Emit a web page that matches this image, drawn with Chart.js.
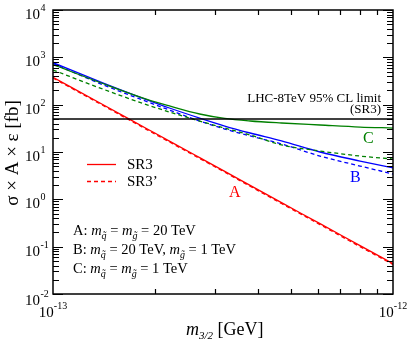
<!DOCTYPE html>
<html><head><meta charset="utf-8">
<script src="https://cdn.jsdelivr.net/npm/chart.js@4/dist/chart.umd.min.js"></script>
<style>html,body{margin:0;padding:0;background:#fff}canvas{display:block}</style>
</head><body>
<canvas id="c" width="411" height="344"></canvas>
<script>
// gravitino mass [GeV]
const massGeV = [1.0e-13,1.4e-13,1.9e-13,2.2e-13,2.7e-13,3.2e-13,3.8e-13,4.7e-13,6.1e-13,8.0e-13,1.0e-12];
// sigma x A x eps [fb]
const sigmaA_SR3  = [380,101,30.3,17.0,7.6,3.9,1.97,0.85,0.306,0.105,0.0437];
const sigmaA_SR3p = [365,97,29,16.3,7.3,3.75,1.89,0.815,0.293,0.100,0.042];
const sigmaB_SR3  = [770,290,125,85,52,35.4,25.2,17.1,10.0,6.45,4.6];
const sigmaB_SR3p = [735,265,114,77,45,30.6,21.8,14.8,8.2,5.05,3.43];
const sigmaC_SR3  = [700,280,128,94,63.5,51.1,45.2,41,37.2,33.7,32.1];
const sigmaC_SR3p = [540,214,98,70,45,32,22.9,14.1,10.5,8.2,7.1];
const limitMass = [1e-13,1e-12];
const limitSR3  = [50,50];
const yTickExps = [4,3,2,1,0,-1,-2];
const xTickExps = [-13,-12];

const SERIF = '"Liberation Serif","Times New Roman",serif';
const pts = (xs, ys) => xs.map((m,i)=>({x:m,y:ys[i]}));
const RED='#ff0000', BLUE='#0000ff', GREEN='#008000';
function ds(data, color, dashed){
  return {data, borderColor:color, borderWidth:1.3, borderDash: dashed?[4,3]:[], pointRadius:0, fill:false, cubicInterpolationMode:'monotone'};
}

function font(sz,it){return (it?'italic ':'')+sz+'px '+SERIF;}
function drawRich(ctx,x,y,segs,align){
  let w=0; segs.forEach(s=>{ctx.font=font(s.s,s.i); s.w=ctx.measureText(s.t).width; w+=s.w;});
  let cx = align==='center'? x-w/2 : align==='right'? x-w : x;
  ctx.textAlign='left'; ctx.textBaseline='alphabetic';
  segs.forEach(s=>{ctx.font=font(s.s,s.i); ctx.fillText(s.t,cx,y+(s.dy||0)); cx+=s.w;});
}

const deco = {
  id:'deco',
  afterDatasetsDraw(chart){
    const ctx=chart.ctx, a=chart.chartArea, xs=chart.scales.x, ys=chart.scales.y;
    ctx.save();
    ctx.fillStyle='#000'; ctx.strokeStyle='#000';
    // frame
    ctx.lineWidth=1.5;
    ctx.strokeRect(a.left,a.top,a.right-a.left,a.bottom-a.top);
    // y ticks
    ctx.lineWidth=1.2;
    for(let e=-2;e<=4;e++){
      for(let k=1;k<=9;k++){
        const v=k*Math.pow(10,e); if(v>1e4) break;
        const p=Math.round(ys.getPixelForValue(v))+0.5;
        const L = k===1?10:6;
        ctx.beginPath();
        ctx.moveTo(a.left,p); ctx.lineTo(a.left+L,p);
        ctx.moveTo(a.right,p); ctx.lineTo(a.right-L,p);
        ctx.stroke();
      }
    }
    // x ticks
    for(let k=2;k<=9;k++){
      const p=Math.round(xs.getPixelForValue(k*1e-13))+0.5;
      ctx.beginPath();
      ctx.moveTo(p,a.bottom); ctx.lineTo(p,a.bottom-5);
      ctx.moveTo(p,a.top); ctx.lineTo(p,a.top+5);
      ctx.stroke();
    }
    // y tick labels
    yTickExps.forEach(e=>{
      const p=ys.getPixelForValue(Math.pow(10,e));
      const b = p + (e===-2?11:9);
      ctx.font=font(15); ctx.textAlign='right'; ctx.textBaseline='alphabetic';
      ctx.fillText('10',40,b);
      ctx.font=font(10); ctx.textAlign='left';
      ctx.fillText(String(e),40.5,b-8);
    });
    // x tick labels
    xTickExps.forEach(e=>{
      const p=xs.getPixelForValue(Math.pow(10,e));
      drawRich(ctx,p,317,[{t:'10',s:15},{t:String(e),s:10,dy:-8}],'center');
    });
    // axis titles
    ctx.save();
    ctx.translate(18,153); ctx.rotate(-Math.PI/2);
    ctx.font=font(19); ctx.textAlign='center'; ctx.textBaseline='alphabetic';
    ctx.fillText('σ × A × ε [fb]',0,0);
    ctx.restore();
    drawRich(ctx,186,335,[{t:'m',s:18,i:true},{t:'3/2',s:11,i:true,dy:4},{t:' [GeV]',s:18}],'left');
    // limit text
    ctx.font=font(13); ctx.textAlign='right';
    ctx.fillText('LHC-8TeV 95% CL limit',381,102);
    ctx.fillText('(SR3)',381,113);
    // curve labels
    ctx.textAlign='left';
    ctx.font=font(16);
    ctx.fillStyle=RED; ctx.fillText('A',229,197);
    ctx.fillStyle=BLUE; ctx.fillText('B',350,182);
    ctx.fillStyle=GREEN; ctx.fillText('C',363,143);
    // legend
    ctx.strokeStyle=RED; ctx.lineWidth=1.3;
    ctx.beginPath(); ctx.moveTo(87,164.5); ctx.lineTo(116,164.5); ctx.stroke();
    ctx.setLineDash([4,3]);
    ctx.beginPath(); ctx.moveTo(87,181.5); ctx.lineTo(116,181.5); ctx.stroke();
    ctx.setLineDash([]);
    ctx.fillStyle='#000'; ctx.font=font(15);
    ctx.fillText('SR3',127,169);
    ctx.fillText('SR3’',127,186);
    // model annotations
    const sub=(t)=>({t,s:10,i:true,dy:4});
    drawRich(ctx,73,235,[{t:'A: ',s:14.5},{t:'m',s:14.5,i:true},sub('q̃'),{t:' = ',s:14.5},{t:'m',s:14.5,i:true},sub('g̃'),{t:' = 20 TeV',s:14.5}],'left');
    drawRich(ctx,73,254,[{t:'B: ',s:14.5},{t:'m',s:14.5,i:true},sub('q̃'),{t:' = 20 TeV, ',s:14.5},{t:'m',s:14.5,i:true},sub('g̃'),{t:' = 1 TeV',s:14.5}],'left');
    drawRich(ctx,73,273,[{t:'C: ',s:14.5},{t:'m',s:14.5,i:true},sub('q̃'),{t:' = ',s:14.5},{t:'m',s:14.5,i:true},sub('g̃'),{t:' = 1 TeV',s:14.5}],'left');
    ctx.restore();
  }
};

new Chart(document.getElementById('c'),{
  type:'line',
  data:{datasets:[
    {...ds(pts(limitMass,limitSR3),'#000',false), borderWidth:1.5, cubicInterpolationMode:'default'},
    ds(pts(massGeV,sigmaC_SR3),GREEN,false),
    ds(pts(massGeV,sigmaC_SR3p),GREEN,true),
    ds(pts(massGeV,sigmaB_SR3),BLUE,false),
    ds(pts(massGeV,sigmaB_SR3p),BLUE,true),
    ds(pts(massGeV,sigmaA_SR3),RED,false),
    ds(pts(massGeV,sigmaA_SR3p),RED,true)
  ]},
  options:{
    responsive:false, animation:false, devicePixelRatio:1,
    layout:{padding:{left:53,right:18,top:10,bottom:50}},
    plugins:{legend:{display:false},tooltip:{enabled:false}},
    scales:{
      x:{type:'logarithmic',min:1e-13,max:1e-12,display:false},
      y:{type:'logarithmic',min:1e-2,max:1e4,display:false}
    }
  },
  plugins:[deco]
});
</script>
</body></html>
